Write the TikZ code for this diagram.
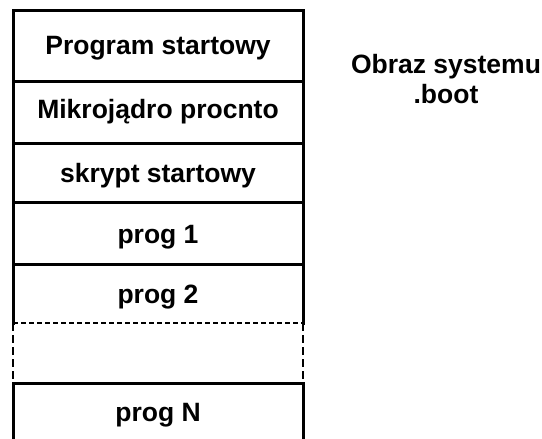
\documentclass[tikz,border=0pt]{standalone}
\usepackage{fontspec}
\setmainfont{Liberation Sans}
\begin{document}
\begin{tikzpicture}[x=1pt,y=-1pt,
  lbl/.style={font=\bfseries\fontsize{26.5}{30}\selectfont, anchor=base, inner sep=0pt},
  rule/.style={line width=3pt, line cap=rect},
  dashrule/.style={line width=2.6pt, dash pattern=on 5pt off 3pt}]
\useasboundingbox (0,0) rectangle (542,439);

% column edges and row boundaries of the memory image
\foreach \n/\y in {t/10, a/81, b/143, c/202, d/264, e/323, f/383, z/450} {
  \coordinate (L\n) at (13,\y);
  \coordinate (R\n) at (303,\y);
}

% outer frame (open at the bottom)
\draw[rule] (Le) -- (Lt) -- (Rt) -- (Re);
\draw[rule] (Lf) -- (Lz);
\draw[rule] (Rf) -- (Rz);

% row separators
\foreach \n in {a,b,c,d,f} \draw[rule] (L\n) -- (R\n);

% gap row with dashed outline
\draw[dashrule] (Le) -- (Re);
\draw[dashrule, dash pattern=on 8pt off 4pt] (Le) -- (Lf);
\draw[dashrule, dash pattern=on 8pt off 4pt] (Re) -- (Rf);

% row labels
\node[lbl] (boot)   at (158,55)  {Program startowy};
\node[lbl] (kernel) at (158,118) {Mikrojądro procnto};
\node[lbl] (script) at (158,182) {skrypt startowy};
\node[lbl] (prog1)  at (158,243) {prog 1};
\node[lbl] (prog2)  at (158,303) {prog 2};
\node[lbl] (progN)  at (158,421) {prog N};

% caption (base anchor sits on the last line)
\node[lbl, align=center] (title) at (446,103) {Obraz systemu\\.boot};
\end{tikzpicture}
\end{document}
